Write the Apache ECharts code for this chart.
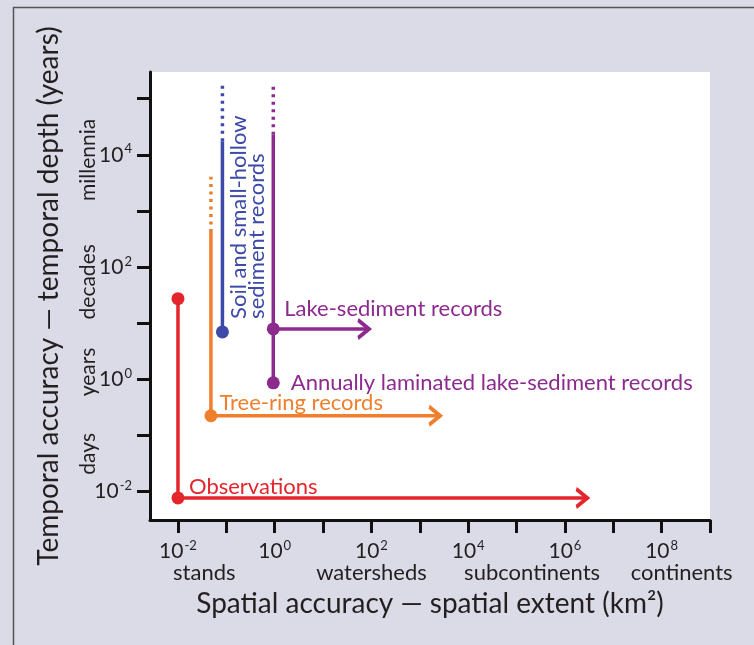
<!DOCTYPE html>
<html>
<head>
<meta charset="utf-8">
<title>Temporal and spatial scales of records</title>
<script src="https://cdn.jsdelivr.net/npm/echarts@6/dist/echarts.min.js"></script>
<style>
html, body { margin: 0; padding: 0; background: #dbdae7; }
#main { width: 754px; height: 645px; }
</style>
</head>
<body>
<div id="main"></div>
<script>
// axes (log scale, km2 / years)
var xTicks = [1e-2, 1e-1, 1, 1e1, 1e2, 1e3, 1e4, 1e5, 1e6, 1e7, 1e8, 1e9];
var xLabels = [1e-2, 1, 1e2, 1e4, 1e6, 1e8];
var xScaleNames = ['stands', 'watersheds', 'subcontinents', 'continents'];
var xScaleAt = [0.035, 100, 2.1e5, 2.6e8];
var yTicks = [1e-2, 1e-1, 1, 1e1, 1e2, 1e3, 1e4, 1e5];
var yLabels = [1e-2, 1, 1e2, 1e4];
var yScaleNames = ['days', 'years', 'decades', 'millennia'];
var yScaleAt = [0.046, 1.33, 54, 8100];

// records: [km2, years]
var observations = [[0.01, 27], [0.01, 0.0075], [2.9e6, 0.0075]];
var treeRing = [[0.048, 420], [0.048, 0.22], [2630, 0.22]];
var treeRingMore = [[0.048, 420], [0.048, 4050]];
var soil = [[0.083, 6.9], [0.083, 17400]];
var soilMore = [[0.083, 17400], [0.083, 178000]];
var annual = [[0.935, 0.85], [0.935, 22700]];
var annualMore = [[0.935, 22700], [0.935, 178000]];
var lake = [[0.935, 7.8], [89, 7.8]];

var RED = '#e4262c', ORANGE = '#ef7f2c', BLUE = '#3e4aa8', PURPLE = '#8c2a8e';
var FONT = 'Lato';
var ARROW = 'path://M0,0 L10,8 L0,16';

var myChart = echarts.init(document.getElementById('main'));

function nearest(list, v) {
	var best = 0;
	for (var i = 1; i < list.length; i++) {
		if (Math.abs(Math.log10(list[i]) - Math.log10(v)) < Math.abs(Math.log10(list[best]) - Math.log10(v))) best = i;
	}
	return best;
}

function powLabel(v) {
	return '{b|10}{s|' + Math.round(Math.log10(v)) + '}';
}

var powRich = {
	b: { fontSize: 21, fontFamily: FONT, color: '#231f20' },
	s: { fontSize: 13, fontFamily: FONT, color: '#231f20', padding: [0, 0, 11, 1] }
};

// build data items: 'dot', 'arrow' or '' for each point
function items(pts, ends, color, labels) {
	return pts.map(function (p, i) {
		var it = { value: p };
		if (ends[i] === 'dot') {
			it.symbol = 'circle';
			it.symbolSize = 13;
		} else if (ends[i] === 'arrow') {
			it.symbol = ARROW;
			it.symbolSize = [11, 18];
			it.symbolOffset = [-5.5, 0];
			it.itemStyle = { color: 'none', borderColor: color, borderWidth: 3.5 };
		} else {
			it.symbol = 'none';
		}
		if (labels && labels[i]) it.label = labels[i];
		return it;
	});
}

function textRight(color, dist, dy) {
	return {
		show: true, formatter: '{a}', position: 'right', distance: dist, offset: [0, dy],
		color: color, fontSize: 22, fontFamily: FONT
	};
}

function line(name, data, color, dotted) {
	return {
		name: name, type: 'line', data: data, color: color,
		lineStyle: { color: color, width: 3.5, type: dotted ? [3, 4.5] : 'solid' },
		itemStyle: { color: color },
		z: dotted ? 2 : 3
	};
}

myChart.setOption({
	animation: false,
	backgroundColor: '#dbdae7',
	graphic: [{
		type: 'rect', silent: true,
		shape: { x: 13.5, y: 7.5, width: 800, height: 700 },
		style: { fill: 'none', stroke: '#555', lineWidth: 1.5 }
	}],
	grid: { left: 150, top: 72, right: 44, bottom: 125, show: true, backgroundColor: '#fff', borderWidth: 0 },
	xAxis: [{
		type: 'log', min: 0.00264, max: 1e9,
		name: 'Spatial accuracy \u2014 spatial extent (km\u00b2)',
		nameLocation: 'middle', nameGap: 70,
		nameTextStyle: { fontSize: 28, fontFamily: FONT, color: '#231f20' },
		axisLine: { show: true, lineStyle: { color: '#111', width: 3 } },
		axisTick: { show: true, length: 13, lineStyle: { color: '#111', width: 3 }, customValues: xTicks },
		axisLabel: { margin: 19, customValues: xLabels, formatter: powLabel, rich: powRich },
		splitLine: { show: false }, minorTick: { show: false }
	}, {
		type: 'log', min: 0.00264, max: 1e9, position: 'bottom',
		axisLine: { show: false }, axisTick: { show: false }, splitLine: { show: false },
		axisLabel: {
			margin: 42, customValues: xScaleAt, fontSize: 22, fontFamily: FONT, color: '#231f20',
			formatter: function (v) { return xScaleNames[nearest(xScaleAt, v)]; }
		}
	}],
	yAxis: [{
		type: 'log', min: 0.00303, max: 3.0e5,
		name: 'Temporal accuracy \u2014 temporal depth (years)',
		nameLocation: 'middle', nameGap: 87,
		nameTextStyle: { fontSize: 28, fontFamily: FONT, color: '#231f20' },
		axisLine: { show: true, lineStyle: { color: '#111', width: 3 } },
		axisTick: { show: true, length: 13, lineStyle: { color: '#111', width: 3 }, customValues: yTicks },
		axisLabel: { margin: 18, customValues: yLabels, formatter: powLabel, rich: powRich },
		splitLine: { show: false }, minorTick: { show: false }
	}, {
		type: 'log', min: 0.00303, max: 3.0e5, position: 'left',
		axisLine: { show: false }, axisTick: { show: false }, splitLine: { show: false },
		axisLabel: {
			margin: 51, rotate: 90, customValues: yScaleAt, fontSize: 21, fontFamily: FONT, color: '#231f20',
			formatter: function (v) { return yScaleNames[nearest(yScaleAt, v)]; }
		}
	}],
	series: [
		line('Observations', items(observations, ['dot', 'dot', 'arrow'], RED,
			[null, textRight(RED, 4.5, -11)]), RED),
		line('Tree-ring records', items(treeRing, ['', 'dot', 'arrow'], ORANGE,
			[null, textRight(ORANGE, 2, -13)]), ORANGE),
		line('tree-ring-more', items(treeRingMore, ['', ''], ORANGE), ORANGE, true),
		line('Soil and small-hollow\nsediment records', items(soil, ['dot', ''], BLUE, [{
			show: true, formatter: '{a}', position: 'inside', rotate: 90, align: 'left', verticalAlign: 'middle',
			offset: [13, 25], color: BLUE, fontSize: 22, lineHeight: 18, fontFamily: FONT
		}]), BLUE),
		line('soil-more', items(soilMore, ['', ''], BLUE), BLUE, true),
		line('Annually laminated lake-sediment records', items(annual, ['dot', ''], PURPLE,
			[textRight(PURPLE, 11, 0)]), PURPLE),
		line('annual-more', items(annualMore, ['', ''], PURPLE), PURPLE, true),
		line('Lake-sediment records', items(lake, ['dot', 'arrow'], PURPLE,
			[textRight(PURPLE, 4.5, -20)]), PURPLE)
	]
});
</script>
</body>
</html>
